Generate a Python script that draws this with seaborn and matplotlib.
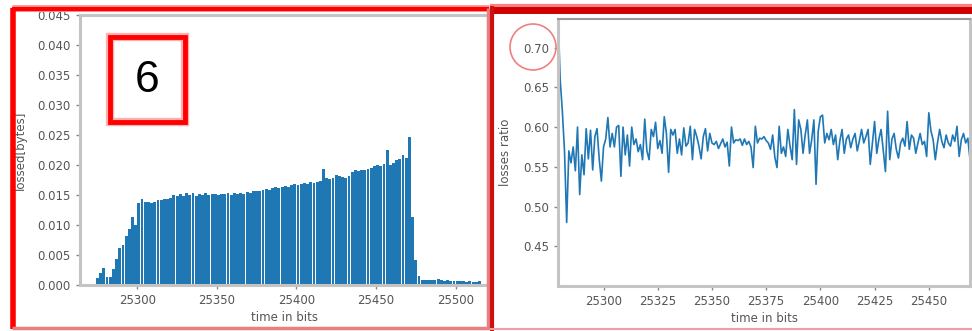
import numpy as np
import pandas as pd
import seaborn as sns
import matplotlib.pyplot as plt
from matplotlib.patches import Rectangle, Ellipse
from matplotlib.lines import Line2D

# left panel: lost bytes per time slot (one bar every 2 bits, starting at 25275)
bar_start = 25275
bar_step = 2
lossed_bytes = [
    0.0012, 0.0020, 0.0028, 0.0014, 0.0013, 0.0026, 0.0044, 0.0061, 0.0067, 0.0081,
    0.0094, 0.0114, 0.0100, 0.0136, 0.0144, 0.0139, 0.0139, 0.0136, 0.0139, 0.0142,
    0.0141, 0.0144, 0.0143, 0.0145, 0.0150, 0.0149, 0.0152, 0.0148, 0.0153, 0.0150,
    0.0153, 0.0149, 0.0152, 0.0150, 0.0153, 0.0150, 0.0152, 0.0151, 0.0150, 0.0152,
    0.0151, 0.0153, 0.0150, 0.0153, 0.0152, 0.0154, 0.0152, 0.0155, 0.0154, 0.0156,
    0.0157, 0.0156, 0.0158, 0.0160, 0.0159, 0.0161, 0.0163, 0.0162, 0.0164, 0.0165,
    0.0164, 0.0166, 0.0168, 0.0167, 0.0169, 0.0170, 0.0168, 0.0171, 0.0170, 0.0172,
    0.0174, 0.0194, 0.0178, 0.0177, 0.0179, 0.0183, 0.0181, 0.0180, 0.0179, 0.0182,
    0.0188, 0.0191, 0.0190, 0.0192, 0.0191, 0.0194, 0.0195, 0.0199, 0.0200, 0.0198,
    0.0201, 0.0225, 0.0200, 0.0203, 0.0209, 0.0210, 0.0217, 0.0212, 0.0247, 0.0114,
    0.0042, 0.0015, 0.0009, 0.0009, 0.0008, 0.0009, 0.0008, 0.0010, 0.0008, 0.0007,
    0.0008, 0.0007, 0.0007, 0.0006, 0.0007, 0.0006, 0.0005, 0.0006, 0.0005, 0.0005,
    0.0006,
]

# right panel: loss ratio per bit, starting at 25279
ratio_start = 25279
losses_ratio = [
    0.745, 0.660, 0.620, 0.570, 0.480, 0.570, 0.555, 0.575, 0.545, 0.600,
    0.515, 0.565, 0.540, 0.598, 0.560, 0.596, 0.546, 0.588, 0.598, 0.560,
    0.532, 0.575, 0.585, 0.612, 0.575, 0.592, 0.575, 0.600, 0.602, 0.538,
    0.600, 0.565, 0.590, 0.551, 0.600, 0.578, 0.585, 0.569, 0.578, 0.559,
    0.610, 0.570, 0.559, 0.597, 0.588, 0.606, 0.573, 0.583, 0.567, 0.613,
    0.592, 0.543, 0.597, 0.590, 0.597, 0.567, 0.585, 0.565, 0.599, 0.576,
    0.580, 0.601, 0.559, 0.597, 0.588, 0.576, 0.560, 0.588, 0.598, 0.570,
    0.592, 0.580, 0.578, 0.582, 0.573, 0.579, 0.585, 0.575, 0.581, 0.551,
    0.600, 0.580, 0.584, 0.583, 0.585, 0.577, 0.585, 0.578, 0.582, 0.575,
    0.549, 0.601, 0.580, 0.586, 0.585,
    0.588, 0.583, 0.580, 0.572, 0.590, 0.562, 0.549, 0.601, 0.567, 0.575,
    0.563, 0.597, 0.576, 0.559, 0.622, 0.553, 0.609, 0.597, 0.567, 0.590,
    0.609, 0.567, 0.584, 0.609, 0.528, 0.595, 0.613, 0.615, 0.580, 0.592,
    0.584, 0.597, 0.578, 0.590, 0.559, 0.583, 0.597, 0.567, 0.585, 0.590,
    0.574, 0.585, 0.592, 0.570, 0.583, 0.597, 0.580, 0.588, 0.597, 0.553,
    0.580, 0.607, 0.567, 0.585, 0.597, 0.570, 0.544, 0.620, 0.559, 0.585,
    0.592, 0.572, 0.561, 0.580, 0.586, 0.576, 0.607, 0.572, 0.590, 0.586,
    0.567, 0.580, 0.592, 0.578, 0.582, 0.563, 0.618, 0.595, 0.584, 0.559,
    0.580, 0.597, 0.582, 0.574, 0.590, 0.580, 0.576, 0.590, 0.582, 0.601,
    0.563, 0.584, 0.592, 0.580, 0.586, 0.559,
]

left_xticks = [25300, 25350, 25400, 25450, 25500]
left_yticks = [0.000, 0.005, 0.010, 0.015, 0.020, 0.025, 0.030, 0.035, 0.040, 0.045]
right_xticks = [25300, 25325, 25350, 25375, 25400, 25425, 25450]
right_yticks = [0.45, 0.50, 0.55, 0.60, 0.65, 0.70]

bars = pd.DataFrame({'time': bar_start + bar_step * np.arange(len(lossed_bytes)),
                     'lossed': lossed_bytes})
ratio = pd.DataFrame({'time': ratio_start + np.arange(len(losses_ratio)),
                      'ratio': losses_ratio})

sns.set_style('white')
plt.rcParams['font.family'] = ['DejaVu Sans']

W, H = 972, 331
fig = plt.figure(figsize=(W / 100, H / 100), dpi=100)
fig.patch.set_facecolor('white')


def box(x0, y0, x1, y1):
    # pixel box (top-left origin) -> figure fraction
    return [x0 / W, 1 - y1 / H, (x1 - x0) / W, (y1 - y0) / H]


blue = '#1f77b4'
txt = '#555555'

ax1 = fig.add_axes(box(80, 15, 489, 285))
sns.barplot(data=bars, x='time', y='lossed', native_scale=True, width=0.9,
            color=blue, saturation=1, errorbar=None, linewidth=0, ax=ax1)
ax1.set_xlim(25264, 25521)
ax1.set_ylim(0, 0.045)
ax1.set_xticks(left_xticks)
ax1.set_yticks(left_yticks)
ax1.set_xticklabels([str(t) for t in left_xticks])
ax1.set_yticklabels([f'{t:.3f}' for t in left_yticks])
ax1.set_xlabel('time in bits', fontsize=8.5, color=txt, labelpad=3)
ax1.set_ylabel('lossed[bytes]', fontsize=8.5, color=txt, labelpad=8)

ax2 = fig.add_axes(box(558, 19, 970, 286))
sns.lineplot(data=ratio, x='time', y='ratio', color=blue, lw=1.2, ax=ax2)
ax2.set_xlim(ratio['time'].min(), ratio['time'].max())
ax2.set_ylim(0.4, 0.736)
ax2.set_xticks(right_xticks)
ax2.set_yticks(right_yticks)
ax2.set_xticklabels([str(t) for t in right_xticks])
ax2.set_yticklabels([f'{t:.2f}' for t in right_yticks])
ax2.set_xlabel('time in bits', fontsize=8.5, color=txt, labelpad=3)
ax2.set_ylabel('losses ratio', fontsize=8.5, color=txt, labelpad=8)

for ax in (ax1, ax2):
    ax.tick_params(axis='both', labelsize=8.5, labelcolor=txt, color='#888888',
                   length=3, width=1, direction='out', bottom=True, left=True)
    for s in ax.spines.values():
        s.set_color('#c4c4c4')
        s.set_linewidth(2.2)
ax2.spines['top'].set_color('#999999')
ax2.spines['top'].set_linewidth(1.5)


# red annotation frames drawn over the screenshot
def fline(x0, y0, x1, y1, color, lw):
    fig.add_artist(Line2D([x0 / W, x1 / W], [1 - y0 / H, 1 - y1 / H],
                          transform=fig.transFigure, color=color, lw=lw,
                          solid_capstyle='butt'))


# left panel frame
fline(12, 8, 489, 8, '#ff9a9a', 5)
fline(12, 9, 489, 9, 'red', 3)
fline(12.5, 8, 12.5, 329, 'red', 4)
fline(488, 8, 488, 329, '#e88080', 2.5)
fline(12, 327.5, 489, 327.5, '#e88080', 2.5)

# right panel frame
fline(490, 6, 972, 6, '#ff8080', 3)
fline(490, 9.5, 972, 9.5, '#d00000', 5)
fline(492, 6, 492, 331, '#d01010', 3)
fline(490, 328.5, 972, 328.5, '#f0a0a0', 1.5)

# boxed "6"
fig.add_artist(Rectangle((110 / W, 1 - 122 / H), 75 / W, 85 / H, transform=fig.transFigure,
                         fill=False, edgecolor='#ffb0b0', lw=6))
fig.add_artist(Rectangle((110 / W, 1 - 122 / H), 75 / W, 85 / H, transform=fig.transFigure,
                         fill=False, edgecolor='red', lw=3.5))
fig.text(147.5 / W, 1 - 80 / H, '6', fontsize=32, color='black', ha='center', va='center',
         family=['Liberation Sans', 'DejaVu Sans'])

# circle around the 0.70 label
fig.add_artist(Ellipse((533 / W, 1 - 47 / H), 46 / W, 46 / H, transform=fig.transFigure,
                       fill=False, edgecolor='#f08080', lw=1.2))

fig.savefig('out.png', dpi=100)
